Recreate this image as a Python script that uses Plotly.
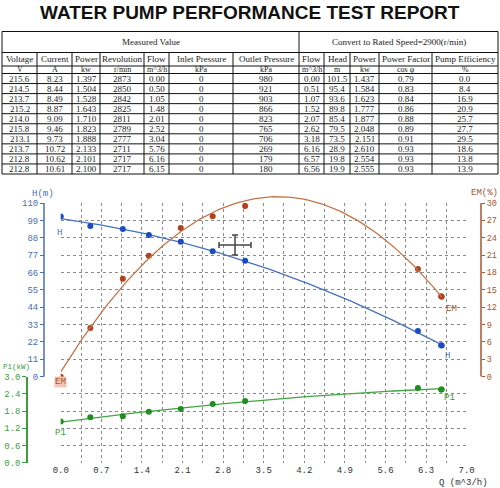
import numpy as np
import plotly.graph_objects as go

W, H = 500, 488

voltage = [215.6, 214.5, 213.7, 215.2, 214.0, 215.8, 213.1, 213.7, 212.8, 212.8]
current = [8.23, 8.44, 8.49, 8.87, 9.09, 9.46, 9.73, 10.72, 10.62, 10.61]
power_meas = [1.397, 1.504, 1.528, 1.643, 1.710, 1.823, 1.888, 2.133, 2.101, 2.100]
revolution = [2873, 2850, 2842, 2825, 2811, 2789, 2777, 2711, 2717, 2717]
flow_meas = [0.00, 0.50, 1.05, 1.48, 2.01, 2.52, 3.04, 5.76, 6.16, 6.15]
inlet_p = [0, 0, 0, 0, 0, 0, 0, 0, 0, 0]
outlet_p = [980, 921, 903, 866, 823, 765, 706, 269, 179, 180]
flow = [0.00, 0.51, 1.07, 1.52, 2.07, 2.62, 3.18, 6.16, 6.57, 6.56]
head = [101.5, 95.4, 93.6, 89.8, 85.4, 79.5, 73.5, 28.9, 19.8, 19.9]
power = [1.437, 1.584, 1.623, 1.777, 1.877, 2.048, 2.151, 2.610, 2.554, 2.555]
power_factor = [0.79, 0.83, 0.84, 0.86, 0.88, 0.89, 0.91, 0.93, 0.93, 0.93]
efficiency = [0.0, 8.4, 16.9, 20.9, 25.7, 27.7, 29.5, 18.6, 13.8, 13.9]

col_names = ["Voltage", "Current", "Power", "Revolution", "Flow", "Inlet Pressure",
             "Outlet Pressure", "Flow", "Head", "Power", "Power Factor", "Pump Efficiency"]
col_units = ["V", "A", "kw", "r/min", "m^3/h", "kPa", "kPa", "m^3/h", "m", "kw", "cos φ", "%"]
group_titles = ["Measured Value", "Convert to Rated Speed=2900(r/min)"]
title_text = "WATER PUMP PERFORMANCE TEST REPORT"

x_ticks = [0.0, 0.7, 1.4, 2.1, 2.8, 3.5, 4.2, 4.9, 5.6, 6.3, 7.0]
h_range = [0, 110]
em_range = [0, 30]
p_range = [0, 3.0]

columns = [voltage, current, power_meas, revolution, flow_meas, inlet_p, outlet_p,
           flow, head, power, power_factor, efficiency]
decimals = [1, 2, 3, 0, 2, 0, 0, 2, 1, 3, 2, 1]

# ---------------- helpers ----------------
def px(x):
    return x / W

def py(y):
    return 1 - y / H

C_BLUE_L, C_BLUE_P, C_BLUE_A = "#4673c0", "#1b4cc2", "#4a6fb5"
C_BRN_L, C_BRN_P, C_BRN_A = "#c27548", "#b1401c", "#a8552f"
C_GRN_L, C_GRN_P, C_GRN_A = "#41a441", "#1e8e1e", "#3c9c3c"
GRID = "#8a8a8a"
TFONT = "Liberation Serif"

# plot geometry (pixels)
X0, X1 = 60.7, 466.7
Y_TOP, Y_MID, Y_BOT = 203.0, 376.7, 462.7
Y_FREE = 188.0  # extra headroom so the efficiency curve can rise above the grid
X_AX_H, X_AX_EM, X_AX_P = 44, 481, 27

fig = go.Figure()

# ---------------- fitted curves + points ----------------
fl = np.array(flow)
qd = np.linspace(fl.min(), fl.max(), 150)
fit_h = np.poly1d(np.polyfit(fl, head, 2))
fit_e = np.poly1d(np.polyfit(fl, efficiency, 2))
fit_p = np.poly1d(np.polyfit(fl, power, 2))

fig.add_trace(go.Scatter(x=qd, y=fit_h(qd), mode="lines", line=dict(color=C_BLUE_L, width=1.3),
                         xaxis="x", yaxis="y", hoverinfo="skip"))
fig.add_trace(go.Scatter(x=flow, y=head, mode="markers", marker=dict(color=C_BLUE_P, size=6),
                         xaxis="x", yaxis="y", name="H"))
fig.add_trace(go.Scatter(x=qd, y=fit_e(qd), mode="lines", line=dict(color=C_BRN_L, width=1.3),
                         xaxis="x2", yaxis="y4", hoverinfo="skip"))
fig.add_trace(go.Scatter(x=flow, y=efficiency, mode="markers", marker=dict(color=C_BRN_P, size=6),
                         xaxis="x", yaxis="y2", name="EM"))
fig.add_trace(go.Scatter(x=qd, y=fit_p(qd), mode="lines", line=dict(color=C_GRN_L, width=1.3),
                         xaxis="x", yaxis="y3", hoverinfo="skip"))
fig.add_trace(go.Scatter(x=flow, y=power, mode="markers", marker=dict(color=C_GRN_P, size=6),
                         xaxis="x", yaxis="y3", name="P1"))

annotations = []
shapes = []

def ann(**kw):
    kw.setdefault("showarrow", False)
    kw.setdefault("xanchor", "center")
    kw.setdefault("yanchor", "middle")
    annotations.append(kw)

# curve labels
i_end = int(np.argmax(fl))
lab_font = dict(family="Liberation Mono", size=9)
ann(x=flow[0], y=fit_h(flow[0]), xref="x", yref="y", text="H",
    font=dict(lab_font, color=C_BLUE_A), yshift=-14, xshift=-1)
ann(x=flow[i_end], y=fit_h(flow[i_end]), xref="x", yref="y", text="H",
    font=dict(lab_font, color=C_BLUE_A), yshift=-11, xshift=6)
ann(x=flow[0], y=0, xref="x", yref="y2", text="EM",
    font=dict(lab_font, color=C_BRN_A), yshift=-5, bgcolor="rgba(232,150,120,0.55)", borderpad=0)
ann(x=flow[i_end], y=fit_e(flow[i_end]), xref="x", yref="y2", text="EM",
    font=dict(lab_font, color=C_BRN_A), yshift=-12, xshift=10)
ann(x=flow[0], y=fit_p(flow[0]), xref="x", yref="y3", text="P1",
    font=dict(lab_font, color=C_GRN_A), yshift=-11, xshift=0)
ann(x=flow[i_end], y=fit_p(flow[i_end]), xref="x", yref="y3", text="P1",
    font=dict(lab_font, color=C_GRN_A), yshift=-9, xshift=8)

# axis titles
ann(x=px(43), y=py(194), xref="paper", yref="paper", text="H(m)", font=dict(lab_font, color=C_BLUE_A))
ann(x=px(484), y=py(193), xref="paper", yref="paper", text="EM(%)", font=dict(lab_font, color=C_BRN_A))
ann(x=px(16.5), y=py(367), xref="paper", yref="paper", text="P1(kW)",
    font=dict(lab_font, size=7.5, color=C_GRN_A), borderpad=0)
ann(x=px(463), y=py(483), xref="paper", yref="paper", text="Q (m^3/h)", font=dict(lab_font, color="#333333"))

# title
ann(x=0.5, y=py(12), xref="paper", yref="paper", text="<b>" + title_text + "</b>",
    font=dict(family="Liberation Sans", size=19, color="#111111"))

# ---------------- table ----------------
xe = [2, 37, 72, 100, 144, 169, 233, 299, 324, 350, 379, 432, 498]
y_top, y_h1, y_names, y_units = 31.5, 52.5, 66.0, 73.5
row_h = 10.05
n_rows = len(voltage)
ye_rows = [y_units + row_h * i for i in range(n_rows + 1)]
y_bot = ye_rows[-1]
line_style = dict(color="#111111", width=1)

for yy in [y_top, y_h1, y_names] + ye_rows:
    shapes.append(dict(type="line", xref="paper", yref="paper", x0=px(xe[0]), x1=px(xe[-1]),
                       y0=py(yy), y1=py(yy), line=line_style))
for j, xx in enumerate(xe):
    top = y_top if j in (0, 7, len(xe) - 1) else y_h1
    shapes.append(dict(type="line", xref="paper", yref="paper", x0=px(xx), x1=px(xx),
                       y0=py(top), y1=py(y_bot), line=line_style))

tab_font = dict(family=TFONT, size=9, color="#222222")
ann(x=px((xe[0] + xe[7]) / 2), y=py((y_top + y_h1) / 2), xref="paper", yref="paper",
    text=group_titles[0], font=tab_font)
ann(x=px((xe[7] + xe[-1]) / 2), y=py((y_top + y_h1) / 2), xref="paper", yref="paper",
    text=group_titles[1], font=tab_font)
for j in range(len(col_names)):
    cx = px((xe[j] + xe[j + 1]) / 2)
    ann(x=cx, y=py((y_h1 + y_names) / 2), xref="paper", yref="paper", text=col_names[j], font=tab_font)
    ann(x=cx, y=py((y_names + y_units) / 2), xref="paper", yref="paper", text=col_units[j],
        font=dict(tab_font, size=8))
    for i in range(n_rows):
        val = columns[j][i]
        ann(x=cx, y=py(ye_rows[i] + row_h / 2), xref="paper", yref="paper",
            text=f"{val:.{decimals[j]}f}", font=tab_font)

# axis lines for the upper axes (drawn on their own scales)
shapes += [
    dict(type="line", xref="paper", yref="y", x0=px(X_AX_H), x1=px(X_AX_H), y0=h_range[0], y1=h_range[1],
         line=dict(color=C_BLUE_A, width=1.5)),
    dict(type="line", xref="paper", yref="y2", x0=px(X_AX_EM), x1=px(X_AX_EM), y0=em_range[0], y1=em_range[1],
         line=dict(color=C_BRN_A, width=1.5)),
]

# cursor cross visible in the screenshot
cur = dict(color="#444444", width=1.5)
cx0, cy0 = 235, 245
shapes += [
    dict(type="line", xref="paper", yref="paper", x0=px(cx0 - 16), x1=px(cx0 + 16), y0=py(cy0), y1=py(cy0), line=cur),
    dict(type="line", xref="paper", yref="paper", x0=px(cx0), x1=px(cx0), y0=py(cy0 - 10), y1=py(cy0 + 10), line=cur),
    dict(type="line", xref="paper", yref="paper", x0=px(cx0 - 16), x1=px(cx0 - 16), y0=py(cy0 - 3), y1=py(cy0 + 3), line=cur),
    dict(type="line", xref="paper", yref="paper", x0=px(cx0 + 16), x1=px(cx0 + 16), y0=py(cy0 - 3), y1=py(cy0 + 3), line=cur),
    dict(type="line", xref="paper", yref="paper", x0=px(cx0 - 3), x1=px(cx0 + 3), y0=py(cy0 - 10), y1=py(cy0 - 10), line=cur),
    dict(type="line", xref="paper", yref="paper", x0=px(cx0 - 3), x1=px(cx0 + 3), y0=py(cy0 + 10), y1=py(cy0 + 10), line=cur),
]

# ---------------- axes ----------------
tick_font = dict(family="Liberation Mono", size=9)
grid_common = dict(showgrid=True, gridcolor=GRID, griddash="dot", gridwidth=1, zeroline=False)
eps_x = 0.001
free_scale = (Y_MID - Y_FREE) / (Y_MID - Y_TOP)

fig.update_layout(
    width=W, height=H, margin=dict(l=0, r=0, t=0, b=0, autoexpand=False),
    paper_bgcolor="white", plot_bgcolor="rgba(0,0,0,0)", showlegend=False,
    xaxis=dict(domain=[px(X0), px(X1)], range=[x_ticks[0] - eps_x, x_ticks[-1] + eps_x], anchor="y3",
               tickmode="array", tickvals=x_ticks, ticktext=[f"{v:.1f}" for v in x_ticks],
               ticks="", showline=False, tickfont=dict(tick_font, color="#333333"), automargin=False,
               minor=dict(dtick=0.35, tick0=0, showgrid=True, gridcolor=GRID, griddash="dot"),
               **grid_common),
    xaxis2=dict(domain=[px(X0), px(X1)], range=[x_ticks[0] - eps_x, x_ticks[-1] + eps_x],
                anchor="y4", visible=False, automargin=False),
    yaxis=dict(domain=[1 - Y_MID / H, 1 - Y_TOP / H], range=h_range, dtick=11, tick0=0,
               anchor="free", position=px(X_AX_H), showline=False, automargin=False,
               ticks="outside", ticklen=4, tickcolor=C_BLUE_A, tickfont=dict(tick_font, color=C_BLUE_A),
               **grid_common),
    yaxis2=dict(overlaying="y", side="right", anchor="free", position=px(X_AX_EM), range=em_range,
                dtick=3, tick0=0, showgrid=False, zeroline=False, showline=False, automargin=False,
                ticks="outside", ticklen=3, tickcolor=C_BRN_A,
                tickfont=dict(tick_font, size=8.5, color=C_BRN_A)),
    yaxis3=dict(domain=[1 - Y_BOT / H, 1 - Y_MID / H], range=[p_range[0] - 0.0005, p_range[1] + 0.0005],
                dtick=0.6, tick0=0, tickformat=".1f", anchor="free", position=px(X_AX_P), showline=True,
                linecolor=C_GRN_A, linewidth=1.5, ticks="outside", ticklen=4, tickcolor=C_GRN_A,
                automargin=False, tickfont=dict(tick_font, color=C_GRN_A), **grid_common),
    yaxis4=dict(domain=[1 - Y_MID / H, 1 - Y_FREE / H], range=[em_range[0], em_range[1] * free_scale],
                anchor="x2", visible=False, automargin=False),
    annotations=annotations, shapes=shapes,
)

fig.write_html("out.html")
